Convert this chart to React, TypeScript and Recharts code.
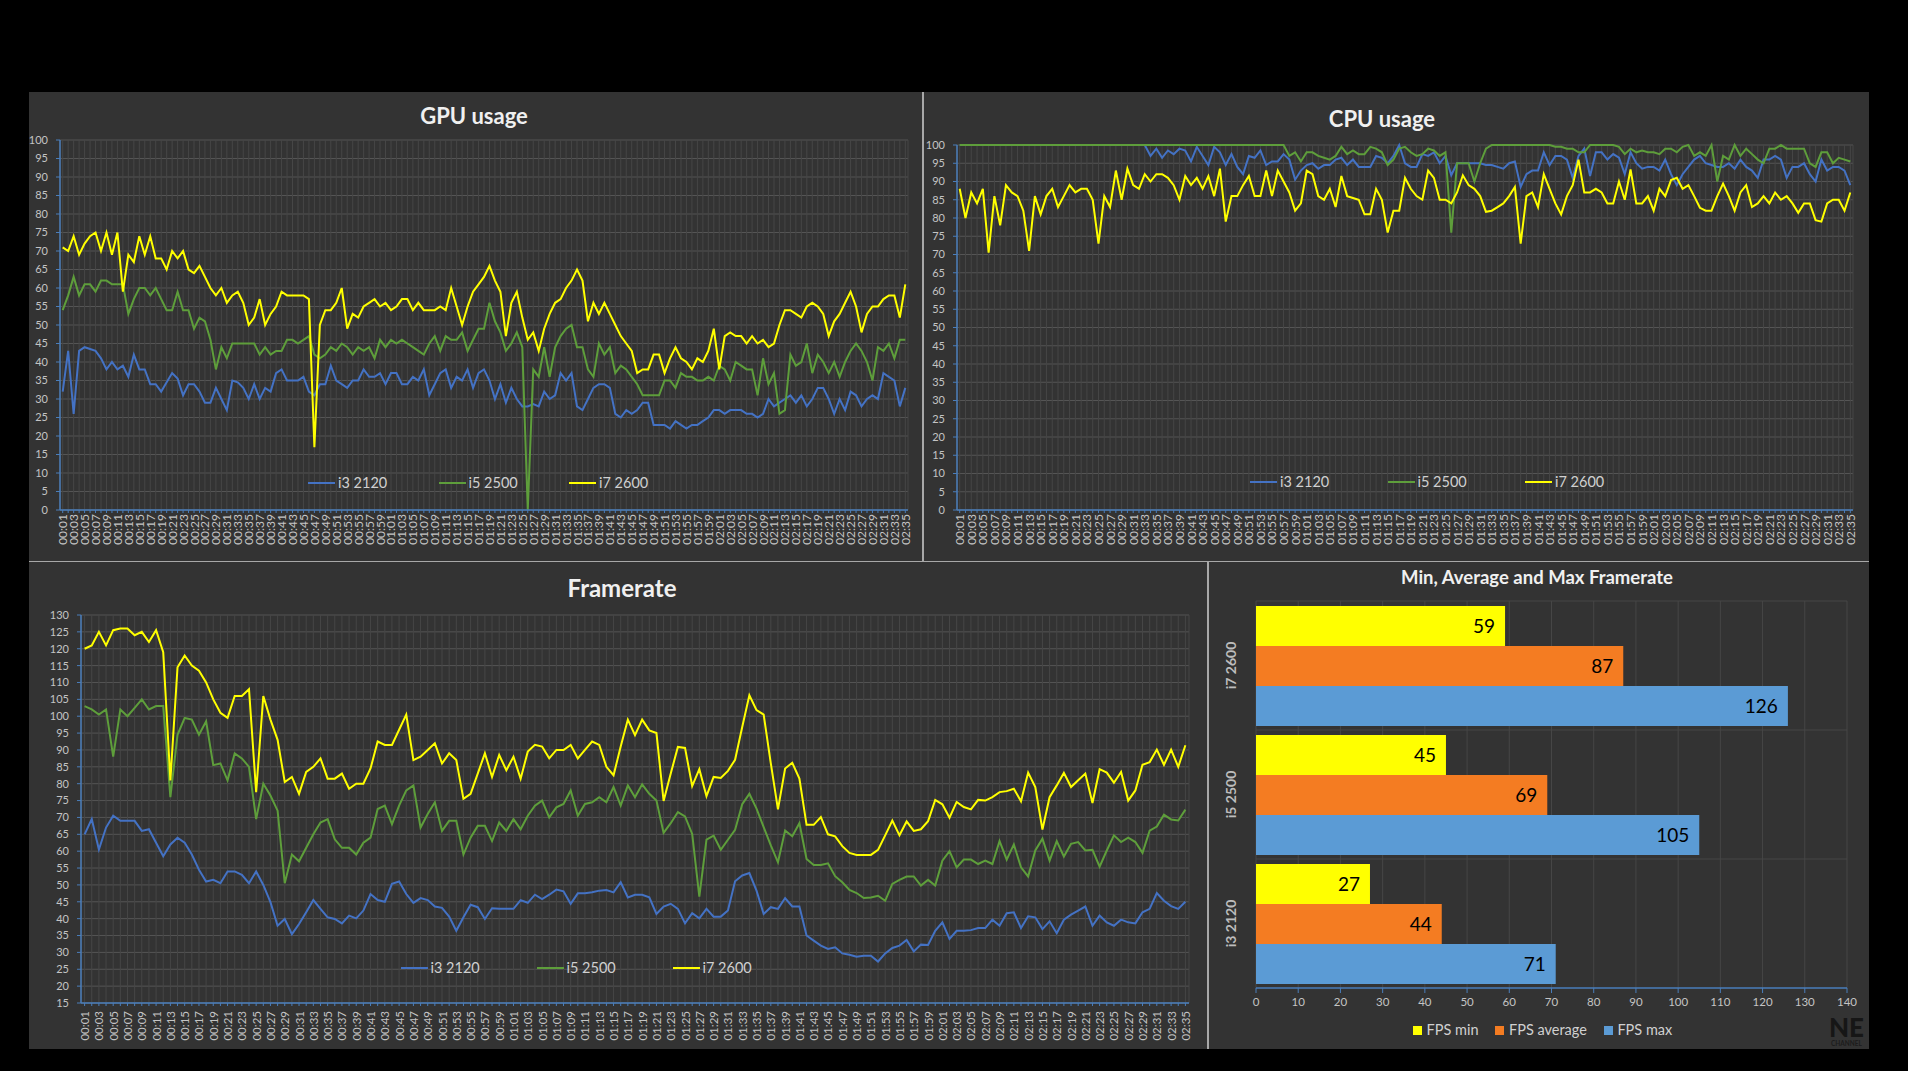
import React from 'react';
import { LineChart, Line, XAxis, YAxis, CartesianGrid, BarChart, Bar, LabelList } from 'recharts';

// time axis: one sample per second, 00:01 .. 02:35
const timeLabels: string[] = Array.from({ length: 155 }, (_, i) => {
  const s = i + 1;
  return `${String(Math.floor(s / 60)).padStart(2, '0')}:${String(s % 60).padStart(2, '0')}`;
});

// GPU usage (%)
const gpuI3 = [
  32, 43, 26, 43, 44, 43.5, 43, 41, 38, 40, 38, 39, 36, 42, 38, 38, 34, 34, 32, 34.5,
  37, 35.5, 31, 34, 34, 32, 29, 29, 33, 30, 27, 35, 34.5, 33, 30, 34, 30, 33, 32, 37,
  38, 35, 35, 35, 36, 32, 31, 34, 34, 39, 35, 34, 33, 35, 35, 38, 36, 36, 37, 34,
  37, 37, 34, 34, 36, 35, 38, 31, 34, 37, 38, 33, 36, 35, 38, 33, 37, 38, 35, 30,
  34, 29, 33, 30, 28, 28, 28.6, 28, 32, 30, 31, 37, 35, 37, 28, 27, 30, 33, 34, 34,
  33, 26, 25, 27, 26, 27, 29, 29, 23, 23, 23, 22, 24, 23, 22, 23, 23, 24, 25, 27,
  27, 26, 27, 27, 27, 26, 26, 25, 26, 30, 28, 29, 30, 31, 29, 31, 28, 30, 33, 33,
  30, 26, 30, 27, 32, 31, 28, 30, 31, 30, 37, 36, 35, 28, 33,
];
const gpuI5 = [
  54, 58, 63, 58, 61, 61, 59, 62, 62, 61, 61, 61, 53, 57, 60, 60, 58, 60, 57, 54,
  54, 59, 54, 54, 49, 52, 51, 46, 38, 44, 41, 45, 45, 45, 45, 45, 42, 44, 42, 43,
  43, 46, 46, 45, 46, 47, 42, 41, 42, 44, 43, 45, 44, 42, 44, 43, 44, 41, 46, 44,
  46, 45, 46, 45, 44, 43, 42, 45, 47, 43, 47, 46, 46, 48, 43, 46, 49, 49, 56, 51,
  48, 43, 45, 48, 44, 0, 38, 36, 44, 36, 44, 47, 49, 50, 44, 44, 38, 36, 45, 42,
  44, 37, 39, 38, 36, 34, 31, 31, 31, 31, 35, 35, 33, 37, 36, 36, 35, 35, 36, 35,
  39, 38, 35, 40, 39, 38, 38, 31, 41, 34, 37, 26, 27, 42, 39, 40, 45, 37, 42, 40,
  37, 40, 36, 40, 43, 45, 43, 40, 35, 44, 43, 45, 41, 46, 46,
];
const gpuI7 = [
  71, 70, 74, 69, 72, 74, 75, 70, 75, 69, 75, 59, 69, 67, 74, 69, 74, 68, 68, 65,
  70, 68, 70, 65, 64, 66, 63, 60, 58, 60, 56, 58, 59, 56, 50, 52, 57, 50, 53, 55,
  59, 58, 58, 58, 58, 57, 17, 50, 54, 54, 56, 60, 49, 53, 52, 55, 56, 57, 55, 56,
  54, 55, 57, 57, 54, 56, 54, 54, 54, 55, 54, 60, 55, 50, 55, 59, 61, 63, 66, 62,
  59, 47, 56, 59, 52, 46, 48, 43, 49, 53, 56, 57, 60, 62, 65, 62, 51, 56, 53, 56,
  53, 50, 47, 45, 43, 37, 38, 38, 42, 42, 37, 41, 44, 41, 40, 38, 41, 40, 43, 49,
  38, 47, 48, 47, 47, 45, 47, 45, 46, 44, 45, 50, 54, 54, 53, 52, 55, 56, 55, 53,
  47, 51, 53, 56, 59, 55, 48, 53, 55, 55, 57, 58, 58, 52, 61,
];

// CPU usage (%)
const cpuI3 = [
  100, 100, 100, 100, 100, 100, 100, 100, 100, 100, 100, 100, 100, 100, 100, 100,
  100, 100, 100, 100, 100, 100, 100, 100, 100, 100, 100, 100, 100, 100, 100, 100,
  100, 97, 99, 96.5, 98.5, 97.5, 99, 98.5, 95.5, 99.5, 97, 94.5, 99.5, 98, 94.5, 97.5,
  94, 92, 97, 96.5, 98.5, 94.5, 95.5, 95.5, 97.5, 96, 90.5, 93, 94.5, 95, 93.5, 94.5,
  94.5, 96, 96.5, 94.5, 96, 94, 94, 94, 97, 96.5, 95, 97, 100, 95, 94, 94,
  97.5, 97, 98, 95, 97, 91.7, 95, 95, 95, 95, 95, 94.5, 94.5, 94, 93.5, 95,
  95.5, 88.5, 92, 93, 93, 98, 94.5, 97, 97, 96, 91, 97, 99, 91.5, 98, 98,
  96, 97.5, 96.5, 92, 98, 95, 93.5, 94, 94, 93, 96, 92, 89, 92, 94, 96,
  97, 95, 94.5, 94, 94, 95, 93.5, 96, 94, 93, 91, 96, 96, 97, 96, 91,
  94, 94, 95, 92, 90, 96, 93, 94, 94, 93, 89,
];
const cpuI5 = [
  100, 100, 100, 100, 100, 100, 100, 100, 100, 100, 100, 100, 100, 100, 100, 100,
  100, 100, 100, 100, 100, 100, 100, 100, 100, 100, 100, 100, 100, 100, 100, 100,
  100, 100, 100, 100, 100, 100, 100, 100, 100, 100, 100, 100, 100, 100, 100, 100,
  100, 100, 100, 100, 100, 100, 100, 100, 100, 97, 98, 95.5, 98, 98, 97, 96.5,
  96, 97, 99.5, 97.5, 98.5, 97.5, 97.5, 99.5, 99, 98, 94.5, 96, 99, 99.5, 98, 97,
  97.5, 99, 98.5, 97, 98, 76, 95, 95, 95, 90, 95, 99, 100, 100, 100, 100,
  100, 100, 100, 100, 100, 100, 100, 99.5, 99.5, 99, 99, 98, 98, 100, 100, 100,
  100, 100, 99.5, 97.5, 99, 98, 98.5, 98, 98, 97.5, 99, 99, 98, 99.5, 100, 97,
  98, 97, 100, 90, 97, 96, 100, 97, 99, 97.5, 96, 95, 99, 99, 100, 99,
  99, 99, 99, 95, 94, 98, 98, 95, 96.5, 96, 95.5,
];
const cpuI7 = [
  88, 80, 87, 84, 88, 70.5, 86, 78, 89, 87, 86, 82, 71, 86, 81, 86, 88, 83, 86, 89,
  87, 88, 88, 85, 73, 86, 83, 93, 85, 93.5, 89, 88, 92, 90, 92, 92, 91, 89, 85, 91.5,
  89, 91, 88, 91.5, 86, 93.5, 79, 86, 86, 89, 91.5, 86, 86, 93, 86, 93, 90, 87, 82, 84,
  93, 92, 86, 85, 88, 83, 91.5, 86, 85.5, 85, 81, 81, 88, 85, 76, 82, 82, 91, 88, 86,
  85, 93, 91, 85, 85, 84, 87, 91.7, 89, 88, 86, 81.7, 82, 83, 84, 86, 88.5, 73, 86, 87,
  83, 92, 88, 84, 81, 86, 89, 96, 87, 87, 88, 87, 84, 84, 90, 85, 93.3, 84, 84, 86,
  82, 88, 86, 90.4, 91, 88, 89, 86, 82.8, 82, 82, 86, 89.4, 86, 82, 87, 89, 83, 84, 86,
  84, 87, 85, 86, 84, 81.4, 84, 84, 79.4, 79, 84, 85, 85, 82, 87,
];

// Framerate (fps)
const fpsI3 = [
  65, 69.5, 60.5, 67, 70.5, 69, 69, 69, 66, 66.5, 62.5, 58.5, 62, 64, 62.5, 59, 54.5, 51, 51.5, 50.5,
  54, 54, 53, 50.5, 54, 50, 44.9, 37.9, 39.9, 35.4, 38.4, 41.9, 45.5, 42.9, 40.4, 39.9, 38.6, 40.9, 40.1, 42.4,
  47.3, 45.5, 45, 50.3, 51, 47.3, 44.7, 46.1, 45.5, 43.6, 43.2, 40.6, 36.4, 40.4, 44.1, 43.4, 39.9, 43.1, 42.9, 42.9,
  42.9, 45.5, 44.7, 47.1, 45.8, 47.1, 48.6, 48.1, 44.4, 47.5, 47.5, 47.8, 48.3, 48.5, 47.8, 50.8, 46.3, 47.1, 47.1, 46.3,
  41.4, 43.6, 44.4, 42.9, 38.6, 41.6, 40.1, 42.9, 40.6, 40.6, 42.4, 51.1, 52.8, 53.5, 48.3, 41.4, 43.4, 42.9, 46.1, 43.6,
  43.6, 35, 33.5, 32, 31, 31.5, 29.7, 29.3, 28.7, 29, 29, 27.3, 29.7, 31.3, 32, 33.7, 30.3, 32.3, 32.2, 36.4,
  38.9, 34, 36.4, 36.4, 36.6, 37.2, 37.2, 39.7, 37.9, 41.6, 41.9, 37.2, 40.7, 40.4, 36.9, 39.2, 35.7, 39.7, 41.2, 42.4,
  43.6, 37.9, 40.9, 38.9, 37.9, 39.7, 38.9, 38.6, 41.9, 42.9, 47.6, 45.3, 43.7, 42.9, 45,
];
const fpsI5 = [
  103, 102, 100.5, 102, 88, 102, 100, 102.5, 105, 102, 103, 103, 76, 94.5, 99.5, 99, 94.5, 98.5, 85.5, 86,
  81, 89, 87.5, 85, 69.5, 80, 76.5, 72, 50.5, 59, 57, 61, 65, 68.5, 69.5, 63.5, 61, 61, 59, 62.5,
  64, 72.5, 73.5, 68, 73.5, 78, 79.5, 67, 71, 74.5, 66, 69, 69, 59, 64, 67.5, 67.5, 63, 68.5, 66,
  69.5, 66.5, 70.5, 73.5, 75, 70, 73, 74, 78, 70.5, 74, 74.5, 76, 74.5, 79, 73.5, 79.5, 76, 79.8, 77,
  75, 65.4, 68.3, 71.6, 70.3, 65.1, 46.5, 63.4, 64.6, 60.4, 63.4, 66.3, 73.9, 77, 72.6, 67.1, 61.7, 56.7, 66.1, 64.4,
  68.3, 57.7, 55.9, 55.9, 56.4, 52.6, 50.8, 48.5, 47.6, 46.1, 46.3, 46.8, 45.3, 50.3, 51.5, 52.5, 52.5, 49.8, 51.5, 49.8,
  57.2, 60, 55.2, 57.5, 57.5, 56.2, 57.2, 56.2, 63, 57.5, 62, 55.2, 52.5, 60.2, 63.7, 57.2, 63, 58.4, 62.2, 62.7,
  60.2, 60.4, 55.4, 60.2, 64.7, 62.7, 64, 62.7, 59.5, 66.1, 67.3, 70.8, 69.4, 69.1, 72.3,
];
const fpsI7 = [
  120, 121, 125, 121, 125.5, 126, 126, 124, 125, 122, 125.5, 119, 81, 114.5, 118, 115, 113.5, 110, 105, 101,
  99.5, 106, 106, 108, 77.5, 106, 99, 93, 80.5, 82, 77, 83.5, 85, 87.5, 81.5, 81.5, 83, 78.5, 80, 80,
  84.5, 92.5, 91.5, 91.5, 96, 100.5, 87, 88, 90, 92, 86, 89, 87, 75.5, 77, 83, 89, 82, 88.5, 84,
  88, 81.5, 89.5, 91.5, 91, 87.5, 90, 90, 91.5, 87.5, 90, 92.5, 91.5, 85, 82.5, 91, 99, 94.4, 99, 95.8,
  95, 74.9, 83, 90.9, 90.6, 79.3, 84.3, 76.3, 82, 81.7, 83.8, 87.1, 96.8, 106.2, 101.8, 100.5, 86, 72.4, 84.5, 86.2,
  81.5, 67.8, 67.8, 70.1, 65, 64.4, 61.5, 59.5, 58.9, 58.9, 58.9, 60.4, 64.7, 69.1, 64.7, 68.8, 66, 66.5, 68.9, 75.2,
  73.9, 69.9, 74.6, 73.1, 72.4, 75.2, 75, 76, 77.5, 77.8, 78.5, 74.8, 83.3, 79, 66.4, 76, 79.5, 83.2, 79, 81,
  83, 74.3, 84.3, 83.3, 80.3, 83.5, 75, 78, 85.6, 86.4, 90.1, 85.6, 90.1, 85, 91.4,
];

// Min / average / max framerate
const barCategories = ['i7 2600', 'i5 2500', 'i3 2120'];
const fpsMin = [59, 45, 27];
const fpsAvg = [87, 69, 44];
const fpsMax = [126, 105, 71];

const usageTicks = [0, 5, 10, 15, 20, 25, 30, 35, 40, 45, 50, 55, 60, 65, 70, 75, 80, 85, 90, 95, 100];
const fpsTicks = [15, 20, 25, 30, 35, 40, 45, 50, 55, 60, 65, 70, 75, 80, 85, 90, 95, 100, 105, 110, 115, 120, 125, 130];
const barTicks = [0, 10, 20, 30, 40, 50, 60, 70, 80, 90, 100, 110, 120, 130, 140];

const BLUE = '#4472C4';
const GREEN = '#5E9E3B';
const YELLOW = '#FFFF00';
const ORANGE = '#F47C22';
const BAR_BLUE = '#5B9BD5';
const PANEL = '#333333';
const AXIS = '#4A7EBB';
const TICK_TEXT = '#c4c4c4';
const GRID_H = '#555555';
const GRID_V = '#464646';

const lineSeries = [
  { key: 'i3', name: 'i3 2120', color: BLUE },
  { key: 'i5', name: 'i5 2500', color: GREEN },
  { key: 'i7', name: 'i7 2600', color: YELLOW },
];

const toRows = (a: number[], b: number[], c: number[]) =>
  timeLabels.map((t, i) => ({ t, i3: a[i], i5: b[i], i7: c[i] }));

const gpuRows = toRows(gpuI3, gpuI5, gpuI7);
const cpuRows = toRows(cpuI3, cpuI5, cpuI7);
const fpsRows = toRows(fpsI3, fpsI5, fpsI7);
const barRows = barCategories.map((name, i) => ({ name, min: fpsMin[i], avg: fpsAvg[i], max: fpsMax[i] }));

function timeTick(fontSize: number) {
  return (props: any) => {
    const { x, y, payload, index } = props;
    if (index % 2 !== 0) return <g />;
    return (
      <text
        x={x}
        y={y}
        transform={`rotate(-90 ${x} ${y})`}
        textAnchor="end"
        dominantBaseline="central"
        fontSize={fontSize}
        fill={TICK_TEXT}
      >
        {payload.value}
      </text>
    );
  };
}

function Title({ cx, cy, size, children }: { cx: number; cy: number; size: number; children: React.ReactNode }) {
  return (
    <div
      style={{
        position: 'absolute',
        left: cx - 250,
        width: 500,
        top: cy - size * 0.65,
        textAlign: 'center',
        fontSize: size,
        fontWeight: 700,
        color: '#f0f0f0',
        lineHeight: `${size * 1.3}px`,
      }}
    >
      {children}
    </div>
  );
}

function LineLegend({ left, cy, step }: { left: number; cy: number; step: number }) {
  return (
    <div style={{ position: 'absolute', left, top: cy - 10, height: 20, display: 'flex', alignItems: 'center' }}>
      {lineSeries.map(s => (
        <div key={s.key} style={{ width: step, display: 'flex', alignItems: 'center' }}>
          <span style={{ display: 'inline-block', width: 27, height: 2, background: s.color, marginRight: 3 }} />
          <span style={{ fontSize: 14.5, color: '#d0d0d0', lineHeight: '20px' }}>{s.name}</span>
        </div>
      ))}
    </div>
  );
}

function UsageChart({
  rows, width, margin, yWidth, pad,
}: {
  rows: any[]; width: number; margin: any; yWidth: number; pad: number;
}) {
  return (
    <LineChart width={width} height={469} data={rows} margin={margin}>
      <CartesianGrid vertical={false} stroke={GRID_H} />
      <CartesianGrid horizontal={false} stroke={GRID_V} />
      <XAxis
        dataKey="t"
        interval={0}
        padding={{ left: pad, right: pad }}
        height={46}
        tick={timeTick(12)}
        tickSize={3}
        tickMargin={1}
        axisLine={{ stroke: AXIS, strokeWidth: 1.5 }}
        tickLine={{ stroke: AXIS }}
      />
      <YAxis
        domain={[0, 100]}
        ticks={usageTicks}
        interval={0}
        width={yWidth}
        tick={{ fill: TICK_TEXT, fontSize: 11 }}
        tickSize={4}
        tickMargin={8}
        axisLine={{ stroke: AXIS, strokeWidth: 1.5 }}
        tickLine={{ stroke: AXIS }}
      />
      {lineSeries.map(s => (
        <Line
          key={s.key}
          type="linear"
          dataKey={s.key}
          name={s.name}
          stroke={s.color}
          strokeWidth={2}
          dot={false}
          isAnimationActive={false}
        />
      ))}
    </LineChart>
  );
}

function BarLegend() {
  const items = [
    { name: 'FPS min', color: YELLOW },
    { name: 'FPS average', color: ORANGE },
    { name: 'FPS max', color: BAR_BLUE },
  ];
  return (
    <div style={{ position: 'absolute', left: 204, top: 458, height: 20, display: 'flex', alignItems: 'center' }}>
      {items.map(it => (
        <div key={it.name} style={{ display: 'flex', alignItems: 'center', marginRight: 17 }}>
          <span style={{ display: 'inline-block', width: 9, height: 9, background: it.color, marginRight: 4.5 }} />
          <span style={{ fontSize: 14.5, color: '#d0d0d0', lineHeight: '20px' }}>{it.name}</span>
        </div>
      ))}
    </div>
  );
}

const catTick = (props: any) => {
  const { x, y, payload } = props;
  return (
    <text
      x={x}
      y={y}
      transform={`rotate(-90 ${x} ${y})`}
      textAnchor="middle"
      dominantBaseline="central"
      fontSize={14}
      fontWeight={700}
      fill="#bdbdbd"
    >
      {payload.value}
    </text>
  );
};

const panel = (left: number, top: number, width: number, height: number): React.CSSProperties => ({
  position: 'absolute', left, top, width, height, background: PANEL, overflow: 'hidden',
});

export default function App() {
  return (
    <div
      style={{
        position: 'absolute', left: 0, top: 0, width: 1908, height: 1071, background: '#000',
        overflow: 'hidden', fontFamily: 'Lato, "Open Sans", sans-serif',
      }}
    >
      {/* GPU usage */}
      <div style={panel(29, 92, 894, 469)}>
        <Title cx={445} cy={24} size={22}>GPU usage</Title>
        <UsageChart rows={gpuRows} width={894} margin={{ top: 48, right: 15, bottom: 5, left: 5 }} yWidth={26} pad={2.7} />
        <LineLegend left={279} cy={390.5} step={130.5} />
      </div>

      {/* CPU usage */}
      <div style={panel(924, 92, 945, 469)}>
        <Title cx={458} cy={27} size={22}>CPU usage</Title>
        <UsageChart rows={cpuRows} width={945} margin={{ top: 53, right: 16, bottom: 5, left: 7 }} yWidth={26} pad={2.7} />
        <LineLegend left={326} cy={389.5} step={137.5} />
      </div>

      {/* Framerate */}
      <div style={panel(29, 562, 1179, 487)}>
        <Title cx={593} cy={26} size={24}>Framerate</Title>
        <LineChart width={1179} height={487} data={fpsRows} margin={{ top: 53, right: 19, bottom: 4, left: 22 }}>
          <CartesianGrid vertical={false} stroke={GRID_H} />
          <CartesianGrid horizontal={false} stroke={GRID_V} />
          <XAxis
            dataKey="t"
            interval={0}
            padding={{ left: 3.6, right: 3.6 }}
            height={42}
            tick={timeTick(11.5)}
            tickSize={3}
            tickMargin={5}
            axisLine={{ stroke: AXIS, strokeWidth: 1.5 }}
            tickLine={{ stroke: AXIS }}
          />
          <YAxis
            domain={[15, 130]}
            ticks={fpsTicks}
            interval={0}
            width={30}
            tick={{ fill: TICK_TEXT, fontSize: 11 }}
            tickSize={4}
            tickMargin={8}
            axisLine={{ stroke: AXIS, strokeWidth: 1.5 }}
            tickLine={{ stroke: AXIS }}
          />
          {lineSeries.map(s => (
            <Line
              key={s.key}
              type="linear"
              dataKey={s.key}
              name={s.name}
              stroke={s.color}
              strokeWidth={2}
              dot={false}
              isAnimationActive={false}
            />
          ))}
        </LineChart>
        <LineLegend left={371.5} cy={405.7} step={136} />
      </div>

      {/* Min, Average and Max Framerate */}
      <div style={panel(1209, 562, 660, 487)}>
        <Title cx={328} cy={15} size={18.5}>Min, Average and Max Framerate</Title>
        <BarChart
          width={660}
          height={487}
          data={barRows}
          layout="vertical"
          margin={{ top: 39, right: 22, bottom: 31, left: 7 }}
          barCategoryGap={5}
          barGap={0}
        >
          <CartesianGrid horizontal={false} stroke={GRID_V} />
          <CartesianGrid
            vertical={false}
            stroke={GRID_V}
            horizontalCoordinatesGenerator={(p: any) => {
              const o = p.offset;
              return [o.top, o.top + o.height / 3, o.top + (2 * o.height) / 3];
            }}
          />
          <XAxis
            type="number"
            domain={[0, 140]}
            ticks={barTicks}
            interval={0}
            height={30}
            tick={{ fill: TICK_TEXT, fontSize: 11.5 }}
            tickSize={5}
            tickMargin={5}
            axisLine={{ stroke: AXIS, strokeWidth: 1.5 }}
            tickLine={{ stroke: AXIS }}
          />
          <YAxis
            type="category"
            dataKey="name"
            width={40}
            axisLine={false}
            tickLine={false}
            tickSize={0}
            tickMargin={26}
            tick={catTick}
          />
          <Bar dataKey="min" name="FPS min" fill={YELLOW} isAnimationActive={false}>
            <LabelList dataKey="min" position="insideRight" offset={10} fill="#000" fontSize={19} />
          </Bar>
          <Bar dataKey="avg" name="FPS average" fill={ORANGE} isAnimationActive={false}>
            <LabelList dataKey="avg" position="insideRight" offset={10} fill="#000" fontSize={19} />
          </Bar>
          <Bar dataKey="max" name="FPS max" fill={BAR_BLUE} isAnimationActive={false}>
            <LabelList dataKey="max" position="insideRight" offset={10} fill="#000" fontSize={19} />
          </Bar>
        </BarChart>
        <BarLegend />
        <div style={{ position: 'absolute', left: 620, top: 452, fontSize: 26, fontWeight: 900, color: '#161616', lineHeight: '26px' }}>
          NE
        </div>
        <div style={{ position: 'absolute', left: 622, top: 478, fontSize: 6.5, fontWeight: 700, color: '#1c1c1c', lineHeight: '8px' }}>
          CHANNEL
        </div>
      </div>

      {/* dividers between the panels */}
      <div style={{ position: 'absolute', left: 922, top: 92, width: 2, height: 469, background: '#a8a8a8' }} />
      <div style={{ position: 'absolute', left: 29, top: 560.5, width: 1840, height: 1.5, background: '#a8a8a8' }} />
      <div style={{ position: 'absolute', left: 1207, top: 562, width: 1.5, height: 487, background: '#a8a8a8' }} />
    </div>
  );
}
